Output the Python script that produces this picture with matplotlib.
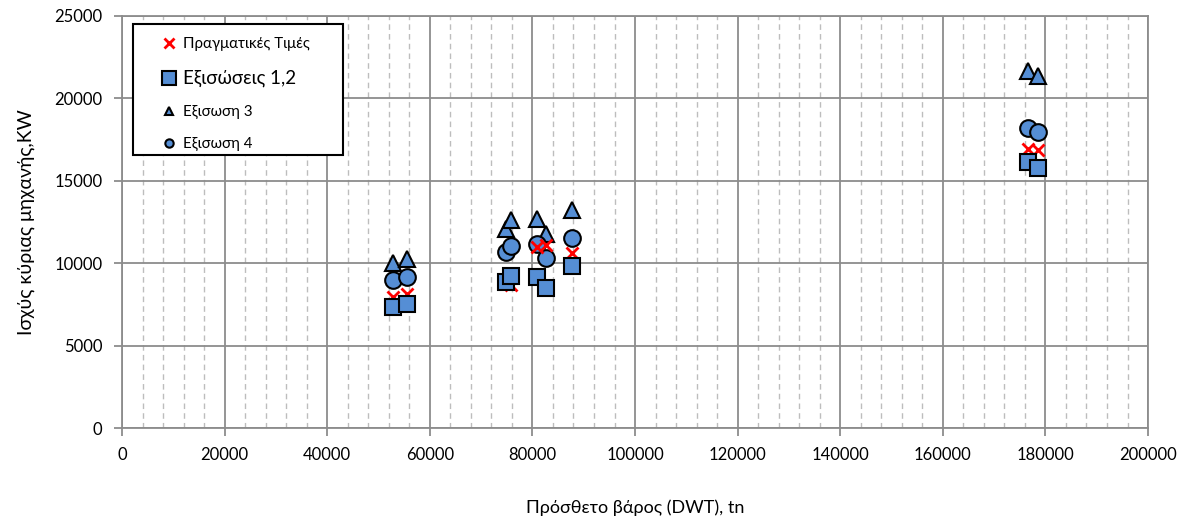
import numpy as np
import matplotlib
matplotlib.use("Agg")
import matplotlib.pyplot as plt
from matplotlib.ticker import MultipleLocator
from matplotlib.patches import Rectangle

plt.rcParams['font.family'] = ['Lato', 'Noto Sans', 'DejaVu Sans']

# DWT of each ship and main engine power (kW)
dwt = [52800, 55500, 74900, 75900, 80900, 82600, 87700, 176600, 178500]
actual = [7950, 8150, 8900, 8700, 11000, 11100, 10600, 16900, 16850]
eq_1_2 = [7350, 7550, 8850, 9200, 9150, 8500, 9800, 16150, 15750]
eq_3 = [10000, 10250, 12100, 12600, 12700, 11750, 13250, 21650, 21350]
eq_4 = [8950, 9150, 10650, 11050, 11150, 10300, 11550, 18200, 17950]

labels = ['Πραγματικές Τιμές', 'Εξισώσεις 1,2', 'Εξισωση 3', 'Εξισωση 4']

blue = '#558ED5'

fig = plt.figure(figsize=(11.93, 5.24), dpi=100)
ax = fig.add_axes([0.1023, 0.1832, 0.8600, 0.7863])

h_tri, = ax.plot(dwt, eq_3, linestyle='none', marker='^', markersize=12,
                 markerfacecolor=blue, markeredgecolor='black', markeredgewidth=1.5, zorder=3)
h_circ, = ax.plot(dwt, eq_4, linestyle='none', marker='o', markersize=12,
                  markerfacecolor=blue, markeredgecolor='black', markeredgewidth=1.5, zorder=4)
h_x, = ax.plot(dwt, actual, linestyle='none', marker='x', markersize=9,
               markeredgecolor='#FF0000', markeredgewidth=2, zorder=5)
h_sq, = ax.plot(dwt, eq_1_2, linestyle='none', marker='s', markersize=12,
                markerfacecolor=blue, markeredgecolor='black', markeredgewidth=1.5, zorder=6)

ax.set_xlim(0, 200000)
ax.set_ylim(0, 25000)
ax.xaxis.set_major_locator(MultipleLocator(20000))
ax.xaxis.set_minor_locator(MultipleLocator(4000))
ax.yaxis.set_major_locator(MultipleLocator(5000))

ax.grid(which='major', axis='both', color='#8C8C8C', linewidth=1.3, zorder=0)
ax.grid(which='minor', axis='x', color='#BDBDBD', linewidth=1.0, linestyle=(0, (4, 3)), zorder=0)
ax.set_axisbelow(True)

for s in ax.spines.values():
    s.set_color('#8C8C8C')
    s.set_linewidth(1.3)

ax.tick_params(which='major', direction='out', length=6, width=1.3, color='#8C8C8C',
               labelsize=12, pad=8)
ax.tick_params(which='minor', length=0)

ax.set_xlabel('Πρόσθετο βάρος (DWT), tn', fontsize=13, labelpad=26)
ax.set_ylabel('Ισχύς κύριας μηχανής,KW', fontsize=14, labelpad=14)

# legend box drawn separately so it can be wider than its entries
ax.add_patch(Rectangle((0.0107, 0.6626), 0.2047, 0.318, transform=ax.transAxes,
                       facecolor='white', edgecolor='black', linewidth=1.5, zorder=9))

leg = ax.legend([h_x, h_sq, h_tri, h_circ], labels,
                loc='upper left', bbox_to_anchor=(0.038, 0.948),
                frameon=False, fontsize=10.8, handlelength=1.0, handletextpad=0.45,
                labelspacing=1.2, borderpad=0, borderaxespad=0)
leg.set_zorder(10)
# the squares entry uses a larger marker and text
leg.legend_handles[1].set_markersize(10)
leg.get_texts()[1].set_fontsize(13.5)
leg.legend_handles[0].set_markersize(7)
leg.legend_handles[2].set_markersize(6)
leg.legend_handles[3].set_markersize(6)

fig.savefig('out.png', dpi=100)
